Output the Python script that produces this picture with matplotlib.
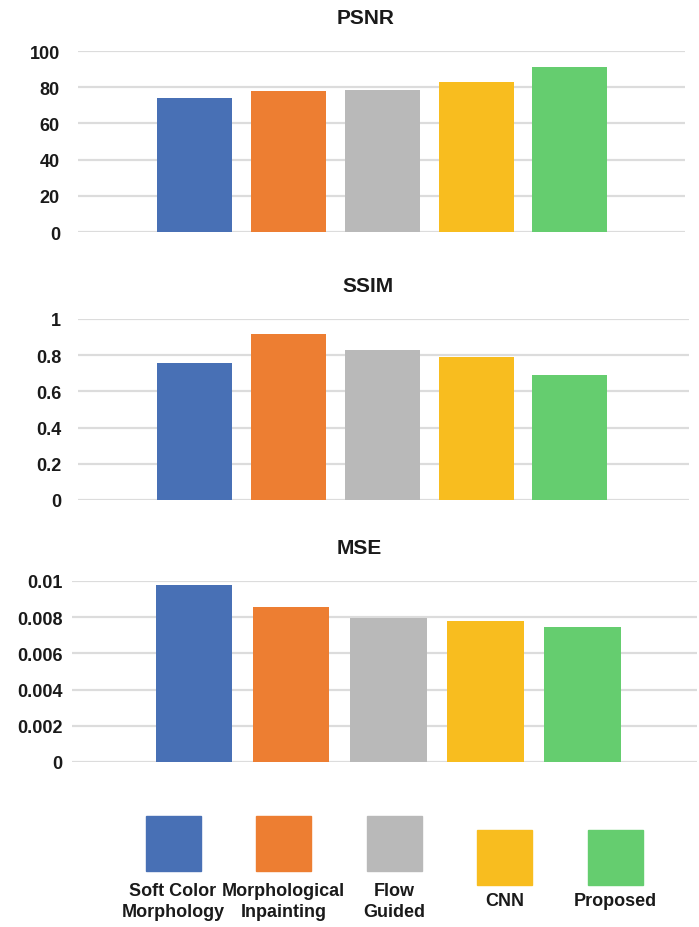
import matplotlib
matplotlib.use("Agg")
import matplotlib.pyplot as plt
from matplotlib.patches import Rectangle

plt.rcParams["font.family"] = ["Liberation Sans Narrow", "Liberation Sans", "DejaVu Sans"]
plt.rcParams["font.weight"] = "bold"

methods = ["Soft Color\nMorphology", "Morphological\nInpainting", "Flow\nGuided", "CNN", "Proposed"]
colors = ["#4870B5", "#ED7E32", "#B9B9B9", "#F8BD1F", "#65CD6F"]

psnr = [73.8, 77.7, 78.3, 82.7, 91.0]
ssim = [0.757, 0.917, 0.829, 0.79, 0.69]
mse = [0.0098, 0.00858, 0.00797, 0.00781, 0.00748]

psnr_ticks = [0, 20, 40, 60, 80, 100]
psnr_labels = ["0", "20", "40", "60", "80", "100"]
ssim_ticks = [0, 0.2, 0.4, 0.6, 0.8, 1.0]
ssim_labels = ["0", "0.2", "0.4", "0.6", "0.8", "1"]
mse_ticks = [0, 0.002, 0.004, 0.006, 0.008, 0.01]
mse_labels = ["0", "0.002", "0.004", "0.006", "0.008", "0.01"]

W, H = 699, 928
fig = plt.figure(figsize=(W / 100, H / 100), dpi=100)
text_color = "#1a1a1a"

# (title, values, ticks, labels, left px, right px, top px, bottom px, xlim, bar width, title x, tick pad)
panels = [
    ("PSNR", psnr, psnr_ticks, psnr_labels, 78, 685, 52, 233, (-1.248, 5.227), 0.8, 0.473, 13),
    ("SSIM", ssim, ssim_ticks, ssim_labels, 78, 689, 320, 501, (-1.248, 5.27), 0.8, 0.475, 12),
    ("MSE", mse, mse_ticks, mse_labels, 72, 697, 582, 763, (-1.256, 5.18), 0.79, 0.46, 7),
]

for title, values, ticks, labels, l, r, t, b, xlim, bw, tx, pad in panels:
    ax = fig.add_axes([l / W, 1 - b / H, (r - l) / W, (b - t) / H])
    ax.bar(range(len(values)), values, width=bw, color=colors, zorder=3)
    ax.set_xlim(*xlim)
    ax.set_ylim(ticks[0], ticks[-1])
    ax.set_yticks(ticks)
    ax.set_yticklabels(labels, fontsize=13, fontweight="bold", color=text_color)
    ax.set_xticks([])
    ax.tick_params(axis="y", length=0, pad=pad)
    ax.yaxis.grid(True, color="#DCDCDC", linewidth=1.6, zorder=0)
    ax.set_axisbelow(True)
    for s in ax.spines.values():
        s.set_visible(False)
    ax.text(tx, 1 + 34 / (b - t), title, transform=ax.transAxes, ha="center", va="center",
            fontsize=15, fontweight="bold", color=text_color)

# custom legend below the panels
leg = fig.add_axes([0, 0, 1, 1])
leg.set_xlim(0, W)
leg.set_ylim(H, 0)
leg.axis("off")
sq = 55
leg_tops = [817, 817, 817, 831, 831]
for i, (name, c) in enumerate(zip(methods, colors)):
    cx = 173 + 110.5 * i
    top = leg_tops[i]
    leg.add_patch(Rectangle((cx - sq / 2, top), sq, sq, color=c))
    if "\n" in name:
        leg.text(cx, 902, name, ha="center", va="center", fontsize=13, fontweight="bold",
                 color=text_color, linespacing=1.35)
    else:
        leg.text(cx, 902, name, ha="center", va="center", fontsize=13, fontweight="bold",
                 color=text_color)

fig.savefig("out.png", dpi=100)
